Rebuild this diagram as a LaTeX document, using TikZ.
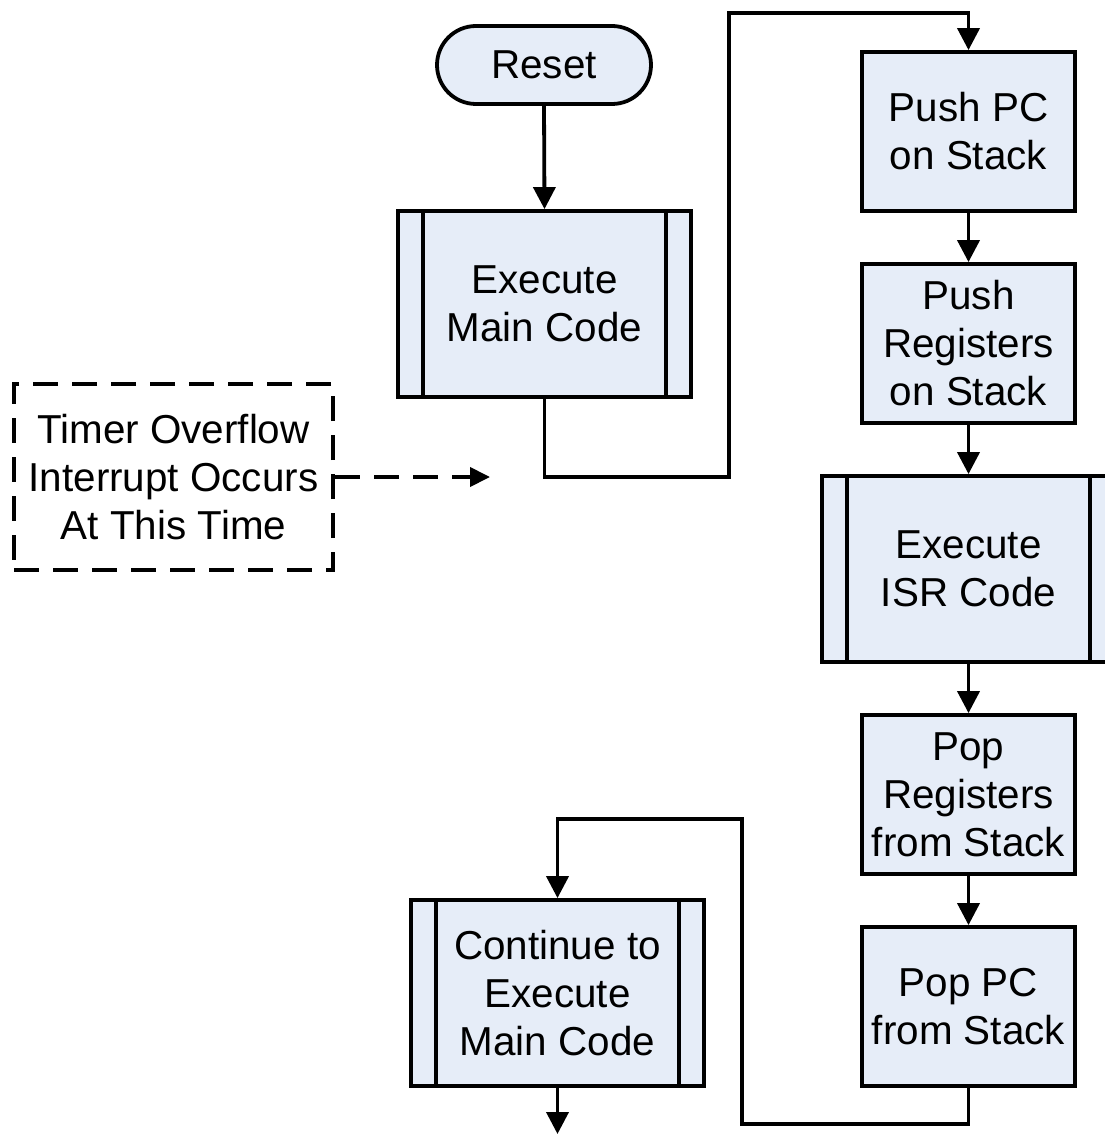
\documentclass[tikz,border=0pt]{standalone}
\usepackage{fontspec}
\setmainfont{Liberation Sans}
\usetikzlibrary{arrows.meta}
\definecolor{boxfill}{RGB}{230,237,248}
\begin{document}
\begin{tikzpicture}[x=0.5pt,y=-0.5pt,
  every node/.style={font=\fontsize{20.2pt}{24pt}\selectfont, align=center, inner sep=0pt},
  box/.style={draw, line width=1.9pt, fill=boxfill, minimum width=106.5pt, minimum height=79.5pt},
  procbox/.style={draw, line width=1.9pt, fill=boxfill, minimum width=146.5pt, minimum height=93pt},
  termbox/.style={draw, line width=1.9pt, fill=boxfill, rounded corners=19.5pt, minimum width=107pt, minimum height=39pt},
  notebox/.style={draw, line width=2pt, dash pattern=on 12.5pt off 7pt, minimum width=159.5pt, minimum height=93pt},
  arr/.style={line width=1.9pt, -{Triangle[length=11pt,width=11pt]}},
  dasharr/.style={line width=2pt, dash pattern=on 12.5pt off 7pt, -{Triangle[length=10pt,width=9.5pt]}},
  barline/.style={line width=1.9pt}
]
\useasboundingbox (0,0) rectangle (1104,1134);

\node[termbox] (reset) at (544,65) {Reset};
\node[procbox] (main) at (544.5,304) {Execute\\Main Code};
\draw[barline] ([xshift=13.5pt]main.north west) -- ([xshift=13.5pt]main.south west);
\draw[barline] ([xshift=-13.5pt]main.north east) -- ([xshift=-13.5pt]main.south east);

\node[box] (pushpc) at (968.5,131.5) {Push PC\\on Stack};
\node[box] (pushreg) at (968.5,343.5) {Push\\Registers\\on Stack};
\node[procbox] (isr) at (968.5,569) {Execute\\ISR Code};
\draw[barline] ([xshift=13.5pt]isr.north west) -- ([xshift=13.5pt]isr.south west);
\draw[barline] ([xshift=-13.5pt]isr.north east) -- ([xshift=-13.5pt]isr.south east);
\node[box] (popreg) at (968.5,794.5) {Pop\\Registers\\from Stack};
\node[box] (poppc) at (968.5,1006.5) {Pop PC\\from Stack};

\node[procbox] (cont) at (557.5,993) {Continue to\\Execute\\Main Code};
\draw[barline] ([xshift=13.5pt]cont.north west) -- ([xshift=13.5pt]cont.south west);
\draw[barline] ([xshift=-13.5pt]cont.north east) -- ([xshift=-13.5pt]cont.south east);

\node[notebox] (timer) at (173.5,477) {Timer Overflow\\Interrupt Occurs\\At This Time};

\coordinate (c1) at (729,477);
\coordinate (c2) at (729,13);
\coordinate (d1) at (742,1124);
\coordinate (d2) at (742,819);
\coordinate (endc) at (557.5,1134);
\coordinate (tip) at (490,477);

\draw[arr] (reset.south) -- (main.north);
\draw[arr] (main.south) |- (c1) -- (c2) -| (pushpc.north);
\draw[arr] (pushpc.south) -- (pushreg.north);
\draw[arr] (pushreg.south) -- (isr.north);
\draw[arr] (isr.south) -- (popreg.north);
\draw[arr] (popreg.south) -- (poppc.north);
\draw[arr] (poppc.south) |- (d1) -- (d2) -| (cont.north);
\draw[arr] (cont.south) -- (endc);
\draw[dasharr] (timer.east) -- (tip);
\end{tikzpicture}
\end{document}
